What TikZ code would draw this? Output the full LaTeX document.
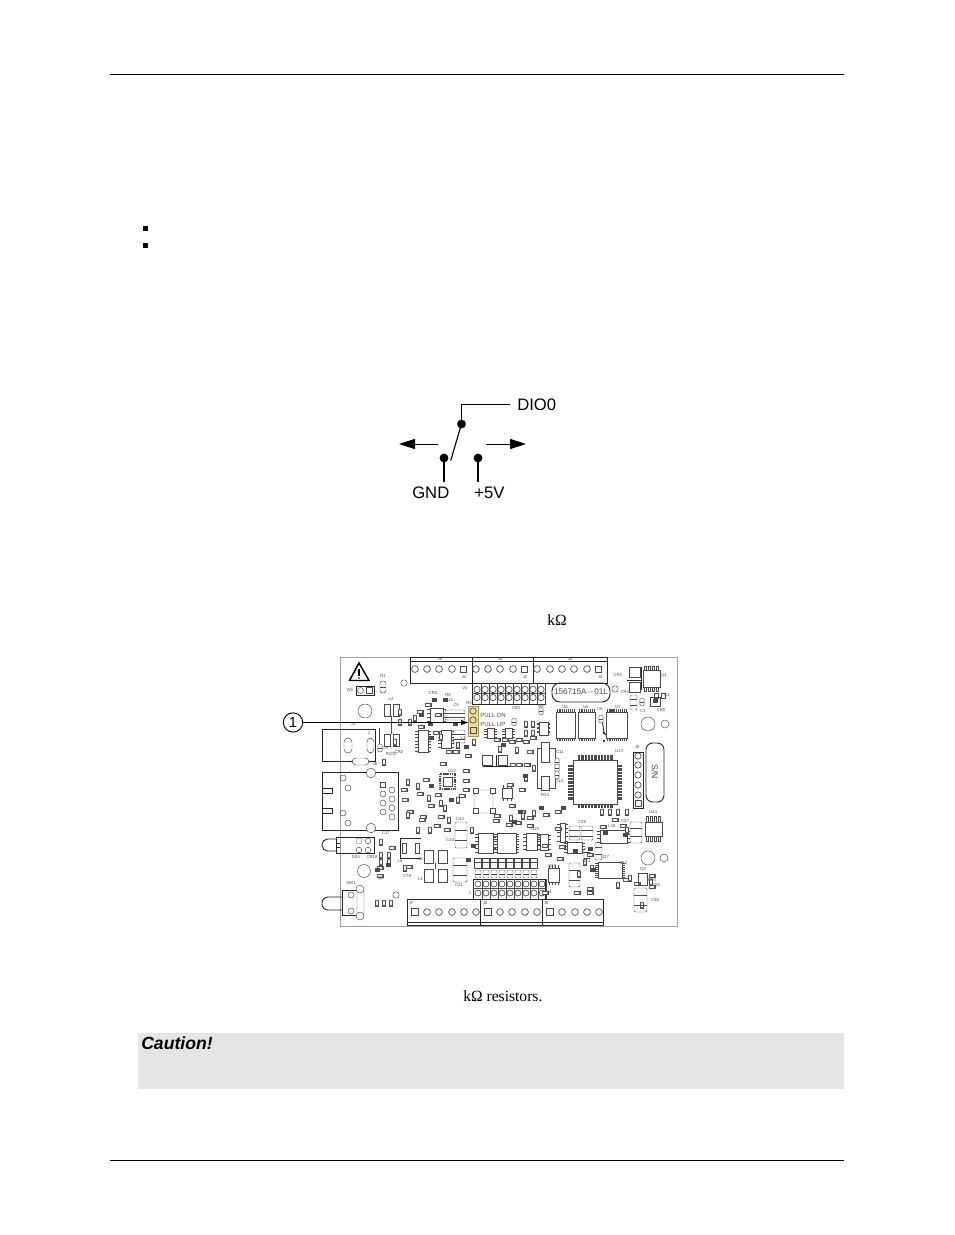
\documentclass[tikz,border=0pt]{standalone}
\usepackage{fontspec}
\setmainfont{Liberation Serif}
\setsansfont{Liberation Sans}
\usetikzlibrary{arrows.meta}
\definecolor{boardgrey}{HTML}{A0A0A0}
\definecolor{partline}{HTML}{4A4A4A}
\definecolor{padgrey}{HTML}{6E6E6E}
\definecolor{capgrey}{HTML}{E5E5E5}
\definecolor{hiyellow}{HTML}{F2DC8E}
\tikzset{
  rulel/.style={draw=black,line width=0.6pt},
  wire/.style={draw=black,line width=0.85pt},
  dotn/.style={circle,fill=black,inner sep=0pt,minimum size=6.6pt},
  sch/.style={font=\sffamily\fontsize{12.5}{13}\selectfont,inner sep=0pt},
  body/.style={font=\rmfamily\fontsize{11.7}{13}\selectfont,inner sep=0pt,anchor=west},
  pt/.style={draw=partline,line width=0.35pt},
  bk/.style={draw=black!85,line width=0.65pt},
  tinylab/.style={font=\sffamily\fontsize{3.2}{4}\selectfont,inner sep=0pt,text=partline},
  midlab/.style={font=\sffamily\fontsize{4.5}{6}\selectfont,inner sep=0pt,text=partline},
  bigarrow/.style={-{Triangle[length=12pt,width=7.6pt]},draw=black,line width=0.7pt}
}
% small two-pad parts
\newcommand{\smh}[2]{\draw[pt,fill=white] (#1-3.2,#2-1.6) rectangle (#1+3.2,#2+1.6); \fill[padgrey] (#1-3.2,#2-1.6) rectangle (#1-1.8,#2+1.6) (#1+1.8,#2-1.6) rectangle (#1+3.2,#2+1.6);}
\newcommand{\smv}[2]{\draw[pt,fill=white] (#1-1.6,#2-3.2) rectangle (#1+1.6,#2+3.2); \fill[padgrey] (#1-1.6,#2-3.2) rectangle (#1+1.6,#2-1.8) (#1-1.6,#2+1.8) rectangle (#1+1.6,#2+3.2);}
\newcommand{\opad}[2]{\draw[pt,fill=white,rounded corners=1pt] (#1-2.2,#2-3.8) rectangle (#1+2.2,#2+3.8); \draw[pt] (#1-2.2,#2) -- (#1+2.2,#2);}
\newcommand{\dk}[2]{\fill[partline] (#1-2.5,#2-1.8) rectangle (#1+2.5,#2+1.8);}
% sized part with two inner pads
\newcommand{\bigcapa}[4]{\draw[pt,rounded corners=1pt] (#1,#2) rectangle (#3,#4);\draw[pt] (#1,{#2+(#4-#2)*0.3}) -- (#3,{#2+(#4-#2)*0.3}) (#1,{#2+(#4-#2)*0.7}) -- (#3,{#2+(#4-#2)*0.7});}
% IC with pins top and bottom
\newcommand{\ictb}[5]{\draw[pt,fill=white] (#1,#2) rectangle (#3,#4);
  \foreach \i in {0,...,#5}{\draw[partline,line width=0.55pt] ({#1+1+(#3-#1-2)*\i/#5},#2-3) -- ({#1+1+(#3-#1-2)*\i/#5},#2+0.5) ({#1+1+(#3-#1-2)*\i/#5},#4-0.5) -- ({#1+1+(#3-#1-2)*\i/#5},#4+3);}}
% IC with pins left and right
\newcommand{\iclr}[5]{\draw[pt,fill=white] (#1,#2) rectangle (#3,#4);
  \foreach \i in {0,...,#5}{\draw[partline,line width=0.55pt] (#1-3,{#2+1+(#4-#2-2)*\i/#5}) -- (#1+0.5,{#2+1+(#4-#2-2)*\i/#5}) (#3-0.5,{#2+1+(#4-#2-2)*\i/#5}) -- (#3+3,{#2+1+(#4-#2-2)*\i/#5});}}
% terminal block
\newcommand{\termblk}[4]{\draw[bk] (#1,#2) rectangle (#3,#4);}
\begin{document}
\begin{tikzpicture}[x=0.75pt,y=-0.75pt]
\useasboundingbox[fill=white] (0,0) rectangle (954,1235);
% page rules
\coordinate (hl) at (110,74); \coordinate (hr) at (844,74);
\coordinate (fl) at (110,1160); \coordinate (fr) at (844,1160);
\draw[rulel] (hl) -- (hr);
\draw[rulel] (fl) -- (fr);
% bullets
\fill[black] (143,226) rectangle (147.5,230.5);
\fill[black] (143,243) rectangle (147.5,247.5);
% schematic
\node[dotn] (pivot) at (461.5,424) {};
\node[dotn] (gnd) at (444,458) {};
\node[dotn] (vcc) at (478,458) {};
\coordinate (corner) at (461.5,404.5);
\coordinate (dioend) at (510,404.5);
\coordinate (blade) at (450.7,460.5);
\coordinate (gndend) at (444,482);
\coordinate (vccend) at (478,482);
\coordinate (la) at (438,444); \coordinate (lb) at (399,444);
\coordinate (ra) at (486,444); \coordinate (rb) at (526,444);
\draw[wire] (dioend) -- (corner) -- (pivot.center);
\draw[wire] (pivot.center) -- (blade);
\draw[wire] (gnd.center) -- (gndend);
\draw[wire] (vcc.center) -- (vccend);
\draw[bigarrow] (la) -- (lb);
\draw[bigarrow] (ra) -- (rb);
\node[sch,anchor=west] (dio) at (517,404.5) {DIO0};
\node[sch,anchor=west] (gndt) at (412,492.5) {GND};
\node[sch,anchor=west] (vcct) at (474,492.5) {+5V};
% inline text fragments
\node[body] (ko) at (547,620.5) {kΩ};
\node[body] (kr) at (463,996.5) {kΩ resistors.};
% caution
\fill[capgrey] (138,1033) rectangle (844,1089);
\node[anchor=west,inner sep=0pt,font=\sffamily\bfseries\itshape\fontsize{13.2}{14}\selectfont] (caut) at (141,1043.5) {Caution!};
% ===== board =====
\draw[boardgrey,line width=0.6pt] (340,657) rectangle (677,926);
\fill[hiyellow] (468,706) rectangle (478,736);
% warning triangle
\draw[black,line width=1.1pt,line join=miter] (359,663) -- (369,680.5) -- (349.5,680.5) -- cycle;
\draw[black,line width=1.1pt] (359,669) -- (359,675.5);
\fill[black] (359,678) circle (0.8);
% top terminals
\termblk{410}{657}{472}{683}\termblk{472}{657}{533}{683}\termblk{533}{657}{607}{683}
\draw[bk] (410,661) -- (607,661);
\foreach \x in {415,427,439,452,476,488,500,513,537,550,562,574,587} \draw[pt,line width=0.5pt] (\x,669) circle (3.4);
\foreach \x in {463,524,598} \draw[pt,line width=0.5pt] (\x-3,666) rectangle (\x+3,672);
\foreach \x in {440,500,570} \node[tinylab] at (\x,659.5) {J8};
\foreach \x/\t in {464/J1,525/J2,600/J3} \node[tinylab] at (\x,677.5) {\t};
% V2 header
\draw[bk] (472,683) rectangle (545,704);
\foreach \x in {477,485,...,541} {\draw[pt,line width=0.5pt] (\x,689.5) circle (3.2); \draw[pt,line width=0.5pt] (\x,697.5) circle (3.2); \draw[pt] (\x+4,683) -- (\x+4,704);}
\draw[pt] (472,693.5) -- (545,693.5);
\node[tinylab] at (465,688) {V2};
% part number box
\draw[black!85,line width=0.7pt,rounded corners=6pt] (552,683) rectangle (610,702);
\node[inner sep=0pt,font=\sffamily\fontsize{6.1}{7}\selectfont,text=partline] (pn) at (581,692.5) {156715A$-$01L};
% jumper W1, R1
\draw[bk] (356,686) rectangle (374,695);
\draw[pt] (360.5,690.5) circle (3); \draw[pt] (366.5,687.5) rectangle (372.5,693.5);
\node[tinylab] at (350,690) {W1}; \node[tinylab] at (383,676) {R1};
\draw[pt,rounded corners=2pt] (380,681) rectangle (386,693);\draw[pt] (380,687) -- (386,687);
% holes
\draw[pt] (404,683) circle (3.2);
\draw[pt] (365,711) circle (7); \fill[partline] (365,711) circle (0.4);
\draw[pt] (615,689) circle (3.2);
\draw[pt] (648,724) circle (7); \fill[partline] (648,724) circle (0.4);
\draw[pt] (665,724) circle (4);
\draw[pt] (364,871) circle (6.5); \fill[partline] (364,871) circle (0.4);
\draw[pt] (396,895) circle (3.2);
\draw[pt] (648,858) circle (7); \fill[partline] (648,858) circle (0.4);
\draw[pt] (664,858) circle (4);
% L2
\draw[pt] (384,704) rectangle (390,716) (393,704) rectangle (399,716) (384,734) rectangle (390,746) (393,734) rectangle (399,746);
\draw[pt] (391.5,716) -- (391.5,734);
\node[tinylab] at (391,699) {L2};
% J4
\draw[bk] (322,729) rectangle (375,761);
\draw[pt,rounded corners=3pt,fill=white] (344,738) rectangle (352,753) (367,738) rectangle (374,753) (352,758) rectangle (369,765);
\draw[pt] (379,728) -- (379,745);
\opad{380}{748}
\node[tinylab] at (353,724) {J4}; \node[tinylab] at (369,733) {1}; \node[tinylab] at (375,764) {J6};
% J6
\draw[bk] (322,772) rectangle (398,830);
\draw[bk] (322,788) -- (332,788) -- (332,793) -- (322,793) (322,808) -- (332,808) -- (332,813) -- (322,813);
\draw[pt,fill=white] (371,773) circle (4.8) (371,828) circle (4.8);
\foreach \p in {(343,778),(348,788),(343,813),(348,823),(392,790),(383,794),(392,799),(383,803),(392,808),(383,812),(392,817)} \draw[pt] \p circle (3);
\draw[pt] (380.5,782) rectangle (385.5,787.5);
% DS1
\draw[bk] (336,837) rectangle (374,853);
\draw[bk,rounded corners=4.2pt] (336,839) -- (322,839) -- (322,851) -- (336,851);
\draw[bk] (336,843) -- (340,843) (336,847) -- (340,847);
\draw[pt] (356.5,838.5) rectangle (361.5,843.5) (368,841) circle (2.8) (359,850) circle (2.8) (368,850) circle (2.8);
\node[tinylab] at (356,857) {DS1}; \node[tinylab] at (372,857) {CR18};
% SW1
\draw[bk] (342,890) rectangle (360,915);
\draw[bk,rounded corners=4.5pt] (342,897) -- (322,897) -- (322,910) -- (342,910);
\draw[pt,rounded corners=3pt,fill=white] (357,888) rectangle (364,917);
\draw[pt,fill=white] (360,889) circle (4) (360,916) circle (4) (351,895) circle (3) (351,911) circle (3);
\node[tinylab] at (351,883) {SW1};
% bottom terminals
\termblk{407}{899}{480}{925}\termblk{480}{899}{542}{925}\termblk{542}{899}{603}{925}
\draw[bk] (407,922) -- (603,922);
\foreach \x in {427,439,452,464,476,500,512,525,537,562,575,587,599} \draw[pt,line width=0.5pt] (\x,912) circle (3.4);
\foreach \x in {415,488,550} \draw[pt,line width=0.5pt] (\x-3.5,908.5) rectangle (\x+3.5,915.5);
\foreach \x/\t in {411/J7,485/J8,546/J9} \node[tinylab] at (\x,903) {\t};
% V4 header
\draw[bk] (473,879) rectangle (545,899);
\foreach \x in {478,486,...,542} {\draw[pt,line width=0.5pt] (\x,884) circle (3); \draw[pt,line width=0.5pt] (\x,893) circle (3); \draw[pt] (\x+4,879) -- (\x+4,899);}
\draw[pt] (473,888.5) -- (545,888.5);
\node[tinylab] at (470,893) {1}; \node[tinylab] at (549,892) {V4};
\foreach \x in {478,486,...,534} {\draw[pt] (\x-3.5,858) rectangle (\x+3.5,868); \draw[pt] (\x-3.5,862) -- (\x+3.5,862); \draw[pt,rounded corners=1pt] (\x-3,870) rectangle (\x+3,878); \draw[pt] (\x-3,874) -- (\x+3,874);}
% yellow jumper
\draw[pt,line width=0.5pt] (473,711) circle (3.2) (473,720) circle (3.2);
\draw[pt,line width=0.5pt] (470,727) rectangle (476,733);
\draw[hiyellow!70!black,line width=0.4pt] (468,706) rectangle (478,736);
\node[midlab,anchor=west] (pd) at (480,715) {PULL DN};
\node[midlab,anchor=west] (pu) at (480,724) {PULL UP};
\node[tinylab] at (469,703) {R3}; \node[tinylab] at (463,738) {L1};
% U5 U6 U7
\ictb{556}{712}{575}{738}{9}
\ictb{578}{712}{595}{738}{8}
\ictb{606}{712}{627}{738}{10}
\node[tinylab] at (565,707) {U5}; \node[tinylab] at (586,707) {U6}; \node[tinylab] at (618,707) {U7}; \node[tinylab] at (600,709) {C6};
\draw[bk] (602,718) -- (604,733) -- (606,735);\fill[black] (604,733) circle (1.2) (604,741) circle (1.2);
\opad{601}{719}
% U13
\draw[pt,fill=white] (573,760) rectangle (617,804);
\foreach \i in {0,...,24} {\pgfmathsetmacro\a{578+1.45*\i}\pgfmathsetmacro\b{765+1.45*\i}
 \draw[partline,line width=0.55pt] (\a,755) -- (\a,760) (\a,804) -- (\a,808) (568,\b) -- (573,\b) (617,\b) -- (622,\b);}
\node[tinylab] at (619,751) {U13};
% J5
\draw[bk] (633,752) rectangle (643,808);
\foreach \y in {756,765,775,785,795} \draw[pt,line width=0.5pt] (638,\y) circle (3.2);
\draw[pt] (635,800) rectangle (641,806);
\node[tinylab] at (637,747) {J5};
% S/N
\draw[black!85,line width=0.7pt,rounded corners=5pt] (646,743) rectangle (664,802);
\node[rotate=-90,inner sep=0pt,font=\sffamily\fontsize{6.5}{7}\selectfont,text=partline] (sn) at (655,772) {S/N};
% U1 and top right
\draw[pt] (643,670) rectangle (660,687);
\foreach \x in {645,649,653,657} {\draw[pt] (\x-1.2,666) rectangle (\x+1.2,670) (\x-1.2,687) rectangle (\x+1.2,691);}
\node[tinylab] at (664,675) {U1};
\draw[pt] (629,667) rectangle (640,677) (629,682) rectangle (640,692);
\draw[bk] (641,667) -- (641,690) (627,680) -- (642,680);
\node[tinylab] at (618,675) {CR1}; \node[tinylab] at (625,692) {C94};
\bigcapa{630}{695}{637}{710}\opad{642}{702}\node[tinylab] at (643,711) {C1};
\dk{655}{701}\draw[pt] (650,697) rectangle (660,706) (654,693) rectangle (658,698) (661,693) rectangle (665,698);
\node[tinylab] at (661,710) {CR0}; \node[tinylab] at (667,695) {C2};
% C11
\draw[pt,fill=white] (537,748) rectangle (555,788);
\draw[pt,fill=white] (541,742) rectangle (549,762) (541,776) rectangle (549,790);
\node[tinylab] at (560,752) {C11}; \node[tinylab] at (559,781) {C14}; \node[tinylab] at (545,795) {R24};
\foreach \y in {762,768,775} \opad{557}{\y}
% U4 group and right-top small parts
\draw[pt] (539,722) rectangle (548,735);
\foreach \y in {723,727,731} {\fill[partline] (537,\y) rectangle (539,\y+2) (548,\y) rectangle (550,\y+2);}
\opad{541}{711}\node[tinylab] at (541,706) {R8};
\opad{514}{722}\node[tinylab] at (516,708) {C80};
\smv{526}{724}\smv{533}{724}\smv{526}{733}\smv{533}{733}
% IC groups
\iclr{430}{708}{443}{722}{3}
\iclr{418}{730}{428}{752}{6}
\iclr{441}{730}{451}{748}{5}
\iclr{487}{728}{494}{738}{3}
\iclr{505}{728}{512}{738}{3}
\ictb{502}{788}{512}{798}{2}
\iclr{478}{833}{493}{853}{5}
\iclr{497}{833}{516}{853}{7}
\iclr{526}{833}{537}{850}{4}
\iclr{540}{834}{548}{850}{3}
\ictb{548}{868}{559}{882}{3}
\iclr{567}{842}{582}{853}{3}
\iclr{600}{830}{627}{843}{3}
\iclr{598}{862}{622}{878}{7}
\iclr{560}{823}{565}{842}{4}
% U12 square chip
\draw[partline,line width=0.9pt,dash pattern=on 1pt off 0.6pt] (440,774) rectangle (455,789);
\draw[pt] (443,777) rectangle (452,786);
% diamond-corner U20
\draw[pt] (476,790) -- (491,790) -- (493,795) -- (493,808) -- (491,813) -- (476,813) -- (474,808) -- (474,795) -- cycle;
\foreach \p in {(473,788),(490,788),(473,808),(490,808)} \draw[pt,fill=white] \p rectangle ++(5,5);
% Q block
\draw[pt] (482,755) rectangle (492,765) (498,755) rectangle (507,765);
\draw[bk] (483,766) -- (515,766) (496,755) -- (496,766);
% misc small parts (two pads)
\foreach \x/\y in {421/727,438/715,420/712,428/705,436/733,449/752,497/740,505/740,512/742,519/740,526/742,533/738,456/752,468/756,513/765,519/765,527/765,510/785,522/790,530/752,443/764,426/780,438/795,466/771,466/781,466/790,462/796,496/821,512/806,522/812,530/818,546/815,558/812,420/794,431/806,410/812,422/820,437/826,447/830,404/790,497/816,509/825,518/823,530/826,558/829,562/847,545/846,548/855,560/859,423/817,441/817,405/800,590/855,590/889,626/880,637/884,652/876,652/887,603/827,615/820,623/826,380/868,380/876,392/848,409/867,577/893,590/893,545/893}
 \smh{\x}{\y};
\foreach \x/\y in {441/737,458/745,474/742,500/749,517/750,526/778,534/768,400/722,400/712,410/722,415/718,384/762,395/742,408/782,418/786,429/798,441/803,408/815,418/830,430/830,445/808,449/820,472/830,458/800,511/818,523/816,534/813,579/874,592/868,602/812,610/812,618/812,627/812,627/830,585/862,618/885,630/878,642/905,651/882,381/842,381/855,389/855,381/862,389/862,405/868,377/903,384/903,391/903}
 \smv{\x}{\y};
\foreach \x/\y in {445/700,434/700,421/715,430/724,455/724,466/747,503/745,525/776,612/711,451/800,431/786,514/822,520/812,541/808,563/808,590/849,575/851,593/870,468/860,473/846,625/835,605/833,377/870,388/865,431/738}
 \dk{\x}{\y};
% larger two-pad parts
\bigcapa{445}{710}{465}{720}
\bigcapa{453}{730}{465}{743}
\bigcapa{569}{826}{580}{840}
\bigcapa{581}{826}{593}{840}
\bigcapa{569}{863}{580}{887}
\bigcapa{634}{888}{647}{912}
\bigcapa{630}{822}{642}{843}
\bigcapa{455}{822}{467}{848}
\bigcapa{453}{858}{467}{882}
\bigcapa{595}{842}{602}{860}
\bigcapa{584}{848}{590}{862}
% inductors
\draw[bk] (421,838) -- (400,838) -- (400,858) -- (421,858);
\draw[pt] (402,843) rectangle (406,853) (415,843) rectangle (419,853);
\draw[pt] (424,850) rectangle (433,863) (438,850) rectangle (447,863) (424,869) rectangle (433,882) (438,869) rectangle (447,882);
\draw[pt] (435.5,863) -- (435.5,869);
\foreach \t/\x/\y in {L6/400/861,L5/420/859,L4/420/879,C21/459/885,C44/460/819,C79/407/876,Q2/381/878,C43/450/840,C47/386/833}
 \node[tinylab] at (\x,\y) {\t};
% U14 DIP
\draw[pt] (645,822) rectangle (662,836);
\foreach \x in {647,651,655,659} {\draw[pt] (\x-1.2,816) rectangle (\x+1.2,822) (\x-1.2,836) rectangle (\x+1.2,841);}
\node[tinylab] at (653,812) {U14};
% Q3 area
\draw[pt] (638,873) rectangle (647,885); \node[tinylab] at (643,869) {Q3};
\node[tinylab] at (652,880) {R50}; \node[tinylab] at (656,885) {C55}; \node[tinylab] at (655,900) {C56};
\foreach \t/\x/\y in {U27/605/857,L18/612/826,C28/582/822,U22/552/866,U15/535/829,C37/625/821,C53/623/863,C5/456/705,R5/448/695,U3/450/700,CR3/433/693,C9/385/748,R105/391/754,CR2/399/752,U12/452/771}
 \node[tinylab] at (\x,\y) {\t};
% callout
\node[circle,draw=black,line width=0.7pt,inner sep=0pt,minimum size=14.5pt,font=\sffamily\fontsize{11}{12}\selectfont] (one) at (293,722.5) {1};
\coordinate (tip) at (469,722.5);
\draw[-{Latex[length=6pt,width=4pt]},black,line width=0.7pt] (one) -- (tip);
\end{tikzpicture}
\end{document}
